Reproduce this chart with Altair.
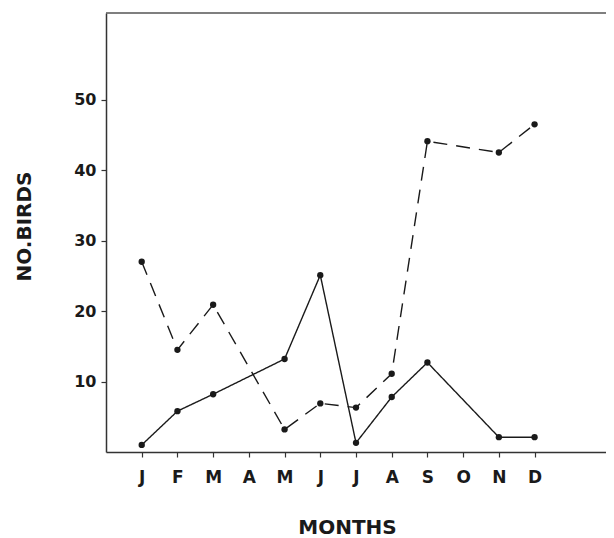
import altair as alt
import pandas as pd

# ---- data ----
month_labels = ["J", "F", "M", "A", "M", "J", "J", "A", "S", "O", "N", "D"]
month_index = list(range(1, 13))

solid_months = [1, 2, 3, 5, 6, 7, 8, 9, 11, 12]
solid_values = [1.0, 5.8, 8.2, 13.2, 25.1, 1.3, 7.8, 12.7, 2.1, 2.1]

dashed_months = [1, 2, 3, 5, 6, 7, 8, 9, 11, 12]
dashed_values = [27.0, 14.5, 20.9, 3.2, 6.9, 6.3, 11.1, 44.1, 42.5, 46.5]

y_ticks = [10, 20, 30, 40, 50]

df = pd.DataFrame({
    "month": solid_months + dashed_months,
    "birds": solid_values + dashed_values,
    "series": ["solid"] * len(solid_months) + ["dashed"] * len(dashed_months),
})

label_expr = "[''," + ",".join(f"'{m}'" for m in month_labels) + "][datum.value]"

FONT = "DejaVu Sans"
INK = "#1a1a1a"

x_enc = alt.X(
    "month:Q",
    scale=alt.Scale(domain=[0, 14], nice=False, zero=False),
    axis=alt.Axis(
        values=month_index, labelExpr=label_expr, title="MONTHS", grid=False,
        labelFont=FONT, labelFontWeight="bold", labelFontSize=17, labelColor=INK,
        labelPadding=12, tickSize=5, tickColor="#333", domainColor="#333",
        domainWidth=1.5, tickWidth=1.2,
        titleFont=FONT, titleFontWeight="bold", titleFontSize=20, titleColor=INK,
        titleX=241, titleY=75, titleBaseline="middle", titleAnchor="start",
        titleAlign="center",
    ),
)
y_enc = alt.Y(
    "birds:Q",
    scale=alt.Scale(domain=[0, 62.3], nice=False),
    axis=alt.Axis(
        values=y_ticks, title="NO.BIRDS", grid=False,
        labelFont=FONT, labelFontWeight="bold", labelFontSize=16, labelColor=INK,
        labelPadding=5, tickSize=5, tickColor="#333", domainColor="#333",
        domainWidth=1.5, tickWidth=1.2,
        titleFont=FONT, titleFontWeight="bold", titleFontSize=20, titleColor=INK,
        titleX=-82, titleY=213, titleBaseline="middle", titleAnchor="start",
        titleAlign="center", titleAngle=270,
    ),
)

base = alt.Chart(df)

lines = base.mark_line(color=INK, strokeWidth=1.4).encode(
    x=x_enc,
    y=y_enc,
    detail="series:N",
    strokeDash=alt.StrokeDash(
        "series:N",
        scale=alt.Scale(domain=["solid", "dashed"], range=[[1, 0], [14, 9]]),
        legend=None,
    ),
)

points = base.mark_circle(color=INK, size=40, opacity=1).encode(
    x="month:Q",
    y="birds:Q",
)

top_border = alt.Chart(pd.DataFrame({"k": [0]})).mark_rule(
    color="#555", strokeWidth=1.5
).encode(x=alt.value(0), x2=alt.value(500), y=alt.value(0))

chart = alt.layer(lines, points, top_border).properties(
    width=500,
    height=439,
    autosize="none",
    padding={"left": 98, "top": 5, "right": 0, "bottom": 85},
).configure_view(stroke=None)

chart.save("out.html", embed_options={"renderer": "svg", "actions": False})
